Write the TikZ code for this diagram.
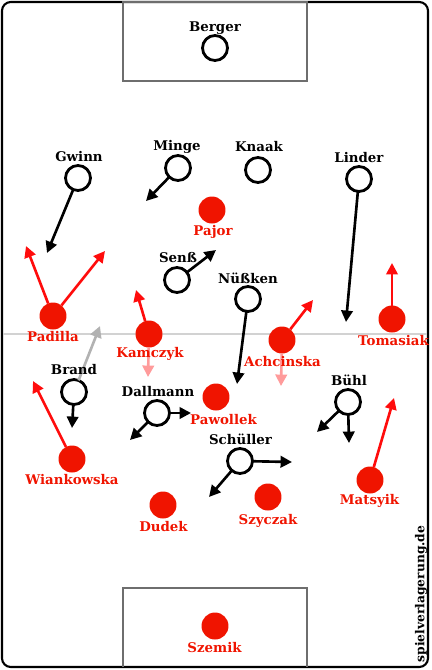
\documentclass[tikz,border=0pt]{standalone}
\usepackage{fontspec}
\setmainfont{DejaVu Serif}
\usetikzlibrary{arrows.meta}
\definecolor{homered}{RGB}{240,20,0}
\definecolor{runred}{RGB}{255,12,12}
\definecolor{fadered}{RGB}{255,155,155}
\definecolor{pitchgray}{RGB}{110,110,110}
\definecolor{halfgray}{RGB}{210,210,210}

\begin{document}
\begin{tikzpicture}[x=0.02cm, y=-0.02cm,
    away/.style={draw, circle, line width=1.6pt, minimum size=0.5cm, inner sep=0pt, outer sep=0pt},
    home/.style={fill=homered, circle, minimum size=0.54cm, inner sep=0pt, outer sep=0pt},
    awayname/.style={anchor=base, font=\fontsize{7.6}{9}\selectfont\bfseries},
    homename/.style={awayname, text=homered},
    run/.style={line width=1.5pt, -{Triangle[length=6.5pt,width=6.5pt]}},
    homerun/.style={run, runred},
    oldrun/.style={run, fadered}]
    \useasboundingbox (0,0) rectangle (432,670);

    % pitch
    \draw[line width=1.2pt, rounded corners=5] (2,2) rectangle (428,667);
    \draw[halfgray, line width=0.6pt] (3,334) -- (427,334);
    \draw[pitchgray, line width=0.6pt] (123,2) rectangle (307,81);
    \draw[pitchgray, line width=0.6pt] (123,667) -- (123,588) -- (307,588) -- (307,667);

    % away team
    \node[away] (berger) at (215,48) {};
    \node[away] (gwinn) at (78,178) {};
    \node[away] (minge) at (178,168) {};
    \node[away] (knaak) at (258,170) {};
    \node[away] (linder) at (359,179) {};
    \node[away] (senss) at (177,280) {};
    \node[away] (nuessken) at (248,299) {};
    \node[away] (brand) at (74,392) {};
    \node[away] (dallmann) at (157,413) {};
    \node[away] (buehl) at (348,402) {};
    \node[away] (schueller) at (240,461) {};

    % home team
    \node[home] (pajor) at (212,210) {};
    \node[home] (padilla) at (53,316) {};
    \node[home] (kamczyk) at (149,334) {};
    \node[home] (achcinska) at (282,340) {};
    \node[home] (tomasiak) at (392,319) {};
    \node[home] (pawollek) at (216,397) {};
    \node[home] (wiankowska) at (72,459) {};
    \node[home] (matsyik) at (370,480) {};
    \node[home] (dudek) at (163,505) {};
    \node[home] (szyczak) at (268,497) {};
    \node[home] (szemik) at (215,626) {};

    % run targets
    \coordinate (gwinnT) at (47,253);
    \coordinate (mingeT) at (146,201);
    \coordinate (linderT) at (346,322);
    \coordinate (senssT) at (216,250);
    \coordinate (nuesskenT) at (237,384);
    \coordinate (brandT) at (72,428);
    \coordinate (brandO) at (100,326);
    \coordinate (dallmannR) at (191,413);
    \coordinate (dallmannL) at (130,440);
    \coordinate (buehlL) at (317,432);
    \coordinate (buehlD) at (349,443);
    \coordinate (schuellerR) at (292,462);
    \coordinate (schuellerL) at (209,497);
    \coordinate (padillaL) at (26,246);
    \coordinate (padillaR) at (105,251);
    \coordinate (kamczykT) at (136,290);
    \coordinate (kamczykO) at (148,377);
    \coordinate (achcinskaT) at (313,300);
    \coordinate (achcinskaO) at (281,386);
    \coordinate (tomasiakT) at (392,263);
    \coordinate (wiankowskaT) at (33,381);
    \coordinate (matsyikT) at (394,398);

    % runs
    \draw[run] (gwinn) -- (gwinnT);
    \draw[run] (minge) -- (mingeT);
    \draw[run] (linder) -- (linderT);
    \draw[run] (senss) -- (senssT);
    \draw[run] (nuessken) -- (nuesskenT);
    \draw[run] (brand) -- (brandT);
    \draw[run, gray!60] (brand) -- (brandO);
    \draw[run] (dallmann) -- (dallmannR);
    \draw[run] (dallmann) -- (dallmannL);
    \draw[run] (buehl) -- (buehlL);
    \draw[run] (buehl) -- (buehlD);
    \draw[run] (schueller) -- (schuellerR);
    \draw[run] (schueller) -- (schuellerL);
    \draw[homerun] (padilla) -- (padillaL);
    \draw[homerun] (padilla) -- (padillaR);
    \draw[homerun] (kamczyk) -- (kamczykT);
    \draw[oldrun] (kamczyk) -- (kamczykO);
    \draw[homerun] (achcinska) -- (achcinskaT);
    \draw[oldrun] (achcinska) -- (achcinskaO);
    \draw[homerun] (tomasiak) -- (tomasiakT);
    \draw[homerun] (wiankowska) -- (wiankowskaT);
    \draw[homerun] (matsyik) -- (matsyikT);

    % names
    \node[awayname] (bergerL) at (215,31.5) {Berger};
    \node[awayname] (gwinnL) at (79,161) {Gwinn};
    \node[awayname] (mingeL) at (177,150) {Minge};
    \node[awayname] (knaakL) at (259,151) {Knaak};
    \node[awayname] (linderL) at (359,162) {Linder};
    \node[awayname] (senssL) at (178,262) {Senß};
    \node[awayname] (nuesskenL) at (248,283) {Nüßken};
    \node[awayname] (brandL) at (74,374) {Brand};
    \node[awayname] (dallmannL) at (158,396) {Dallmann};
    \node[awayname] (buehlL) at (349,385) {Bühl};
    \node[awayname] (schuellerL) at (240.5,444) {Schüller};
    \node[homename] (pajorL) at (213,235) {Pajor};
    \node[homename] (padillaL) at (53,341) {Padilla};
    \node[homename] (kamczykL) at (150,357) {Kamczyk};
    \node[homename] (achcinskaL) at (282.5,366) {Achcinska};
    \node[homename] (tomasiakL) at (393.5,345) {Tomasiak};
    \node[homename] (pawollekL) at (223.5,424) {Pawollek};
    \node[homename] (wiankowskaL) at (72,484) {Wiankowska};
    \node[homename] (matsyikL) at (369.5,504) {Matsyik};
    \node[homename] (dudekL) at (163.5,531) {Dudek};
    \node[homename] (szyczakL) at (268,524) {Szyczak};
    \node[homename] (szemikL) at (214.5,652) {Szemik};

    \node[rotate=90, font=\fontsize{7}{8}\selectfont\bfseries] (site) at (421,594) {spielverlagerung.de};
\end{tikzpicture}
\end{document}
